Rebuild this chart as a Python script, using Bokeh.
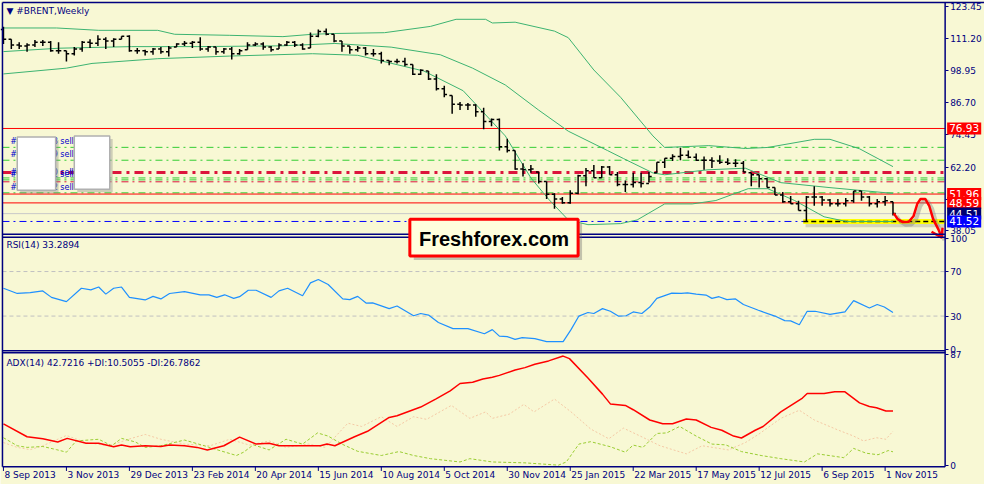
from bokeh.plotting import figure
from bokeh.models import Range1d, Label, FixedTicker, PrintfTickFormatter, LinearAxis
from bokeh.embed import file_html
from bokeh.resources import INLINE
from bokeh.core.properties import value

# ---------------- data (weekly bars, index 0 = 8 Sep 2013) ----------------
bar_open = [114.6, 110.9, 108.7, 108.3, 108.7, 109.8, 109.8, 106.5, 106.5, 105.4,
            107.2, 109.8, 109.4, 110.9, 110.2, 110.9, 112.0, 106.5, 106.5, 106.1,
            107.2, 106.1, 108.0, 109.1, 109.4, 109.8, 107.2, 108.0, 106.1, 107.2,
            105.4, 106.9, 108.7, 109.1, 108.0, 107.2, 108.7, 109.8, 108.7, 107.6,
            112.0, 113.9, 112.8, 110.2, 108.3, 106.9, 107.6, 105.4, 105.4, 102.8,
            102.4, 102.4, 101.3, 97.6, 98.8, 95.8, 92.1, 89.5, 86.2, 85.9,
            85.9, 83.3, 79.6, 80.3, 70.0, 68.5, 61.5, 61.2, 60.4, 56.7,
            51.9, 50.1, 48.6, 52.3, 58.9, 60.8, 58.2, 62.3, 59.3, 55.6,
            55.6, 56.4, 56.0, 60.1, 64.1, 65.6, 66.3, 66.7, 66.0, 64.8,
            64.8, 64.5, 64.1, 63.7, 63.7, 60.1, 59.3, 57.8, 54.5, 51.6,
            49.0, 48.3, 45.7, 50.8, 50.8, 49.7, 48.3, 48.3, 49.4, 53.1,
            50.8, 48.3, 49.0, 49.0]
bar_high = [115.7, 110.9, 109.8, 109.4, 110.6, 110.6, 110.2, 109.8, 106.5, 108.0,
            110.2, 110.9, 112.4, 111.7, 111.3, 112.0, 112.4, 107.6, 106.9, 107.6,
            108.0, 108.3, 109.4, 110.2, 110.2, 111.7, 108.3, 108.0, 107.6, 108.0,
            107.2, 109.8, 109.8, 109.8, 108.3, 109.4, 110.2, 110.2, 109.4, 113.5,
            114.6, 115.0, 112.8, 110.2, 108.3, 108.3, 108.0, 107.2, 106.1, 102.8,
            103.5, 103.9, 101.3, 99.5, 98.8, 97.6, 93.2, 89.5, 87.0, 86.6,
            86.2, 84.8, 80.7, 80.7, 73.0, 68.5, 63.7, 63.0, 60.4, 56.7,
            52.3, 50.8, 53.4, 59.3, 61.9, 63.0, 62.6, 62.6, 60.4, 57.1,
            60.1, 60.1, 60.4, 64.1, 65.6, 67.1, 69.6, 68.5, 67.4, 66.3,
            66.0, 66.7, 65.6, 65.2, 64.5, 60.1, 59.3, 58.2, 54.5, 52.7,
            51.2, 49.4, 51.2, 54.9, 51.2, 50.1, 50.1, 50.5, 53.1, 53.1,
            51.2, 50.1, 51.2, 49.0]
bar_low = [109.1, 107.2, 107.2, 106.1, 108.0, 108.3, 106.1, 105.4, 102.4, 104.7,
           106.1, 107.6, 108.3, 107.2, 108.0, 110.9, 106.1, 105.4, 104.7, 105.0,
           105.4, 104.3, 108.0, 108.3, 107.6, 106.5, 106.1, 105.0, 105.4, 103.2,
           105.0, 106.9, 108.3, 106.9, 106.1, 107.2, 108.3, 108.0, 106.9, 107.6,
           111.7, 112.4, 109.8, 106.1, 105.4, 106.1, 104.7, 104.3, 101.7, 101.0,
           101.7, 100.6, 97.3, 97.3, 95.4, 91.4, 88.8, 82.5, 84.0, 84.0,
           81.4, 76.6, 77.8, 68.5, 67.8, 61.2, 58.6, 60.1, 56.0, 50.1,
           46.4, 48.3, 48.3, 51.9, 54.9, 58.2, 58.2, 59.3, 54.9, 52.7,
           54.5, 54.5, 56.4, 60.1, 61.9, 64.5, 64.8, 65.6, 64.5, 61.2,
           61.9, 63.4, 63.0, 62.3, 60.4, 54.9, 54.5, 54.5, 51.6, 48.6,
           48.3, 45.7, 41.52, 47.5, 47.5, 47.2, 47.2, 47.2, 48.6, 49.4,
           47.2, 46.8, 47.5, 43.8]
bar_close = [110.9, 108.7, 108.3, 108.7, 109.8, 109.8, 106.5, 106.5, 105.4, 107.2,
             109.8, 109.4, 110.9, 110.2, 110.9, 112.0, 106.5, 106.5, 106.1, 107.2,
             106.1, 107.6, 109.1, 109.4, 109.8, 107.2, 108.0, 106.1, 107.2, 105.4,
             106.5, 108.7, 109.1, 108.0, 106.9, 108.7, 109.8, 108.7, 107.2, 112.0,
             113.9, 112.8, 110.2, 108.3, 106.9, 107.6, 105.4, 105.4, 102.8, 102.4,
             102.4, 101.3, 97.6, 99.1, 95.8, 92.1, 89.9, 86.2, 85.9, 85.9,
             83.3, 79.6, 80.3, 70.0, 68.5, 61.5, 61.2, 61.5, 56.7, 51.9,
             50.1, 48.6, 52.3, 58.9, 60.8, 58.2, 62.3, 59.3, 55.6, 55.6,
             56.4, 56.0, 58.6, 64.1, 65.6, 66.3, 66.7, 66.0, 64.8, 64.8,
             64.5, 64.1, 63.7, 63.7, 60.4, 59.3, 57.8, 54.5, 51.6, 49.0,
             48.3, 45.7, 50.8, 50.8, 49.7, 48.3, 48.3, 49.4, 53.1, 50.8,
             48.3, 49.0, 49.4, 44.51]
bar_index = list(range(len(bar_close)))

# Bollinger bands (bar index, price)
bb_upper_x = [0, 6.75, 12.1, 19.6, 21.75, 28.75, 35.5, 39.25, 42.1, 48.4, 54.25, 57.5, 61.25, 62.1,
              65, 70, 71.75, 75, 78.4, 82.5, 84, 89.6, 94.25, 97.1, 103, 105, 108.75, 113]
bb_upper_y = [115.2, 115.2, 114.3, 114.3, 112.8, 112.4, 111.9, 112.8, 113.1, 113.4, 115.8, 118.5, 118.5, 117.1,
              117.4, 114.0, 111.5, 99.2, 88.8, 74.1, 69.7, 70.4, 69.3, 69.7, 72.8, 72.8, 69.2, 62.4]
bb_mid_x = [0, 7.1, 16.25, 24.6, 35.5, 42.1, 49.25, 55.5, 59.6, 63.75, 68, 71.75, 76.75, 78.75,
            82.5, 84, 89.5, 94.25, 98.75, 105, 113]
bb_mid_y = [106.2, 107.5, 108.1, 108.1, 108.4, 109.3, 107.9, 105.0, 99.9, 93.5, 83.9, 75.9, 68.5, 65.5,
            60.0, 59.3, 61.2, 61.8, 56.3, 54.4, 52.2]
bb_low_x = [0, 8, 11.25, 19.6, 28.75, 39.25, 45, 53.4, 58.4, 63.75, 67, 69.25, 71.75, 74.25, 78.4,
            80.5, 84, 87.5, 90.5, 94.6, 97.1, 100.5, 104.25, 107.1, 113]
bb_low_y = [97.7, 99.9, 101.7, 103.5, 104.5, 105.4, 104.8, 98.8, 91.3, 74.1, 58.1, 50.0, 42.1, 40.3, 40.7,
            42.1, 48.2, 48.2, 49.5, 54.0, 54.0, 49.5, 43.3, 41.5, 41.5]

# horizontal levels
resistance_red = [76.93, 51.96, 48.59]
order_levels_green = [69.74, 64.84, 58.10, 57.36, 52.42]
order_labels = ["#10727628 sell", "#10727629 sell", "#10727630 sell", "#10727631 sell", "#10727632 sell"]
level_red_thick = 60.16
level_red_thin = 56.62
current_price = 44.51
support_level = 41.52
support_start = 101.6
axis_boxes = [76.93, 51.96, 48.59, 44.51, 41.52]

# hand-drawn forecast (bar index, price)
forecast_x = [113.1, 113.6, 114.25, 115.0, 115.6, 116.1, 116.5, 117.1, 117.6, 118.1, 118.75, 119.2]
forecast_y = [44.6, 42.4, 41.3, 41.4, 43.5, 48.3, 50.1, 50.1, 47.5, 42.4, 38.6, 35.4]
arrow_head_x = [117.9, 119.2, 119.3]
arrow_head_y = [37.6, 35.4, 39.2]

# RSI(14)
rsi_x = [0, 1.75, 3.4, 5, 6.1, 8, 9.9, 11.1, 12.1, 13, 14, 15, 16, 18, 19, 20, 21.1, 23, 25, 26.1, 27.1,
         28.1, 29.25, 30, 31.1, 32.1, 34, 35, 36.1, 38, 39, 40, 41.25, 43.1, 44, 45, 46.1, 46.9, 49, 50,
         52.1, 53, 54, 55.25, 57.1, 59, 61.1, 62.1, 63, 64, 65, 65.9, 67.5, 69, 71.1, 72.1, 73.1, 74.25,
         75, 76.1, 77.1, 78.1, 79.1, 80, 81.1, 82.1, 83, 84.9, 86.1, 86.9, 88, 89.25, 90, 90.9, 91.9, 93,
         94, 95.9, 98, 99.25, 100, 101.1, 102.1, 103.1, 105, 106.9, 108, 110, 111, 111.9, 113]
rsi_y = [55.0, 50.3, 51.1, 52.6, 46.8, 43.0, 55.0, 53.5, 56.1, 49.7, 55.0, 56.1, 46.8, 44.5, 47.7, 45.4,
         50.3, 52.0, 49.1, 49.1, 46.8, 49.1, 45.9, 47.4, 53.2, 53.2, 46.8, 52.6, 55.0, 48.3, 59.8, 62.8,
         58.4, 45.4, 44.8, 47.7, 41.6, 41.9, 36.7, 39.0, 30.3, 32.3, 30.9, 24.2, 18.7, 18.7, 14.1, 17.8,
         12.0, 11.5, 9.1, 10.6, 9.7, 7.1, 7.1, 17.8, 30.0, 33.2, 32.3, 36.7, 34.3, 30.0, 30.3, 33.7, 32.3,
         38.1, 45.9, 50.6, 50.3, 50.9, 49.7, 48.9, 45.9, 47.4, 44.8, 45.4, 40.4, 35.2, 30.0, 25.9, 25.7,
         22.2, 34.3, 34.3, 31.5, 33.7, 43.9, 37.2, 40.4, 38.1, 33.29]
rsi_levels = [70, 30]

# ADX(14), +DI, -DI
adx_x = [0, 3, 5, 6.9, 8.1, 10.5, 12.1, 14, 15, 16.1, 18, 20, 21.1, 23, 24.6, 25.9, 28, 30, 32.1, 33.75,
         35, 38.6, 40.25, 41.1, 42.1, 44.6, 46.25, 49, 50, 53, 54.9, 56.75, 58, 59.6, 60.9, 62.1, 63, 65,
         66.25, 67.5, 69.25, 71.1, 71.9, 74.25, 76.1, 77.1, 79, 80, 82.1, 83.75, 85, 86.75, 88, 89.9,
         91.25, 92.75, 93.75, 95.5, 96.5, 98.75, 101.5, 102.1, 104.25, 105.6, 106.9, 108.75, 110, 110.9,
         112.1, 113]
adx_y = [32.6, 22.4, 20.8, 18.3, 21.1, 17.3, 17.3, 14.5, 15.8, 14.5, 15.3, 14.7, 15.8, 15.3, 14.0, 12.0,
         15.3, 22.1, 16.6, 17.3, 15.3, 15.3, 15.3, 16.6, 15.3, 22.4, 26.7, 37.6, 38.9, 45.8, 52.1, 58.5,
         64.4, 65.4, 67.9, 69.3, 70.8, 75.0, 76.9, 79.6, 82.2, 86.0, 84.0, 68.7, 56.0, 48.3, 47.1, 43.7,
         35.6, 32.6, 32.6, 36.4, 35.6, 29.8, 27.5, 22.9, 21.4, 27.5, 30.5, 42.0, 52.9, 56.5, 56.5, 57.8,
         57.8, 49.1, 46.3, 45.3, 42.7, 42.72]
pdi_x = [0, 1.75, 3, 5, 6.75, 8, 9.25, 12.1, 13.75, 15, 16.75, 18, 20, 23, 25.5, 27.1, 29.6, 30.5, 31.75,
         33.75, 35.9, 38, 39.9, 41.25, 43, 45, 48, 50.25, 52.1, 54.25, 58, 59.25, 62.1, 66.25, 70.5, 71.5,
         73.1, 74.6, 77.1, 79, 80, 81.25, 83, 84.25, 85.9, 88, 90, 91.75, 93.75, 96.25, 98.75, 101.75,
         103.4, 106.75, 108, 109.6, 111.1, 112.4, 113]
pdi_y = [21.6, 15.3, 14.0, 14.7, 12.2, 10.2, 19.1, 20.4, 15.3, 21.1, 18.3, 14.0, 15.3, 19.8, 15.3, 12.2,
         7.6, 10.2, 16.0, 12.0, 20.4, 16.6, 25.4, 22.9, 16.6, 10.9, 7.6, 10.7, 7.6, 5.1, 2.5, 5.1, 2.5,
         1.8, 0.0, 2.5, 16.6, 18.5, 14.5, 10.2, 15.8, 14.0, 25.0, 25.4, 30.5, 22.9, 16.6, 16.0, 10.7, 7.6,
         5.1, 2.5, 8.9, 5.9, 13.2, 9.4, 8.2, 11.5, 10.51]
mdi_x = [0, 1.75, 3.4, 5, 8, 10.5, 13.4, 16.25, 18, 20, 23, 26.25, 28.75, 31.25, 33.75, 35.9, 38.75, 40.9,
         43.75, 45.5, 48, 50, 52.1, 53.75, 56.9, 59.25, 61.25, 62.1, 64.25, 66.1, 67.4, 70, 72.1, 74.6,
         76.9, 78.75, 80.9, 83.4, 86.75, 88.75, 92.1, 94.25, 95.9, 98.75, 101.1, 103, 105.9, 108, 109.25,
         110.9, 112.1, 113]
mdi_y = [17.8, 14.0, 12.2, 15.3, 23.4, 17.8, 15.3, 21.1, 24.2, 20.4, 16.6, 15.3, 20.4, 15.8, 19.1, 14.0,
         16.6, 14.0, 33.1, 30.5, 38.2, 30.5, 38.2, 36.1, 47.1, 36.9, 42.0, 36.9, 40.2, 47.9, 42.0, 52.1,
         42.0, 28.5, 20.8, 29.2, 22.9, 15.3, 8.9, 15.3, 12.0, 17.8, 24.2, 36.9, 43.3, 35.6, 28.0, 22.9,
         19.1, 21.6, 20.4, 26.79]

date_ticks = [0, 8, 16, 24, 32, 40, 48, 56, 64, 72, 80, 88, 96, 104, 112]
date_labels = ["8 Sep 2013", "3 Nov 2013", "29 Dec 2013", "23 Feb 2014", "20 Apr 2014",
               "15 Jun 2014", "10 Aug 2014", "5 Oct 2014", "30 Nov 2014", "25 Jan 2015",
               "22 Mar 2015", "17 May 2015", "12 Jul 2015", "6 Sep 2015", "1 Nov 2015"]
price_ticks = [38.05, 49.90, 62.20, 74.45, 86.70, 98.95, 111.20, 123.45]
rsi_ticks = [0, 30, 70, 100]
adx_ticks = [0, 87]

# ---------------- layout helpers (chart-pixel geometry of the terminal window) ----------------
BG = "#F8F8D4"
NAVY = "#000080"
FONT = "DejaVu Sans"
BOX_COLORS = ["#FF0000", "#FF0000", "#FF0000", "#000070", "#0000FF"]


def ix(px):      # horizontal pixel -> bar index (8 px per weekly bar)
    return (px - 3) / 8.0


def py(px):      # vertical pixel -> price scale
    return 125.66 - 0.3686 * px


def ry(px):      # vertical pixel -> RSI scale
    return 30 + (326 - px) * 0.8696


def ay(px):      # vertical pixel -> ADX scale
    return (480 - px) / 1.31


XL, XR = ix(0), ix(1000)
X_LEFT, X_AXIS = ix(2), ix(960)

p = figure(frame_width=984, frame_height=484, x_range=Range1d(XL, XR), y_range=Range1d(py(500), py(0)),
           output_backend="svg", toolbar_location=None, x_axis_location=None, y_axis_location=None,
           min_border=0, min_border_left=0, min_border_right=0, min_border_top=0, min_border_bottom=0,
           background_fill_color=BG, border_fill_color=BG, outline_line_color=None)
p.grid.visible = False
p.extra_y_ranges = {"rsi": Range1d(ry(500), ry(0)), "adx": Range1d(ay(500), ay(0))}

# right-hand value axes (one per pane), anchored at the pane edge
for rng, ticks, fmt in (("default", price_ticks, "%.2f"), ("rsi", rsi_ticks, "%d"), ("adx", adx_ticks, "%d")):
    ax = LinearAxis(y_range_name=rng, fixed_location=X_AXIS, ticker=FixedTicker(ticks=ticks),
                    formatter=PrintfTickFormatter(format=fmt))
    ax.axis_line_color = None
    ax.major_tick_line_color = NAVY
    ax.minor_tick_line_color = None
    ax.major_tick_in = 0
    ax.major_tick_out = 3
    ax.major_label_text_color = NAVY
    ax.major_label_text_font = FONT
    ax.major_label_text_font_size = "9px"
    ax.major_label_standoff = 2
    p.add_layout(ax, "right")

# ---------------- main price pane ----------------
for lv in order_levels_green:
    p.segment(x0=[X_LEFT], y0=[lv], x1=[X_AXIS], y1=[lv], line_color="#32CD32", line_width=1,
              line_dash="7 4 2 4")
p.segment(x0=[X_LEFT], y0=[level_red_thick], x1=[X_AXIS], y1=[level_red_thick], line_color="#DC143C",
          line_width=3, line_dash="9 5 3 5")
p.segment(x0=[X_LEFT], y0=[level_red_thin], x1=[X_AXIS], y1=[level_red_thin], line_color="#DC143C",
          line_width=1, line_dash="7 4 2 4")
p.segment(x0=[X_LEFT] * 3, y0=resistance_red, x1=[X_AXIS] * 3, y1=resistance_red,
          line_color="#FF0000", line_width=1)
p.segment(x0=[X_LEFT], y0=[current_price], x1=[X_AXIS], y1=[current_price], line_color="#C8C8C8",
          line_width=1)
p.segment(x0=[X_LEFT], y0=[support_level], x1=[X_AXIS], y1=[support_level], line_color="#0000FF",
          line_width=1, line_dash="7 4 2 4")

# yellow support marker
p.segment(x0=[support_start + 0.3], y0=[support_level - 0.9], x1=[X_AXIS], y1=[support_level - 0.9],
          line_color="#808080", line_alpha=0.3, line_width=7)
p.segment(x0=[support_start], y0=[support_level], x1=[X_AXIS], y1=[support_level],
          line_color="#FFFF00", line_width=5)
p.segment(x0=[support_start], y0=[support_level], x1=[X_AXIS], y1=[support_level],
          line_color="#000000", line_width=1.5, line_dash="5 3")

# Bollinger bands
for bx, by in ((bb_upper_x, bb_upper_y), (bb_mid_x, bb_mid_y), (bb_low_x, bb_low_y)):
    p.line(bx, by, line_color="#3CB371", line_width=1)

# OHLC bars
p.segment(x0=bar_index, y0=bar_low, x1=bar_index, y1=bar_high, line_color="black", line_width=1.5)
p.segment(x0=[i - 0.35 for i in bar_index], y0=bar_open, x1=bar_index, y1=bar_open,
          line_color="black", line_width=1.5)
p.segment(x0=bar_index, y0=bar_close, x1=[i + 0.35 for i in bar_index], y1=bar_close,
          line_color="black", line_width=1.5)

# order labels, partly hidden by white boxes
p.text(x=[ix(10)] * len(order_levels_green), y=order_levels_green, text=order_labels,
       y_offset=-1, text_baseline="bottom", text_font=value(FONT), text_font_size="8px",
       text_color="#0000CC")
p.quad(left=[ix(20), ix(78)], right=[ix(59), ix(114)], top=[py(144), py(143)], bottom=[py(199), py(198)],
       fill_color="#808080", fill_alpha=0.35, line_color=None)
p.quad(left=[ix(17), ix(75)], right=[ix(56), ix(111)], top=[py(141), py(140)], bottom=[py(196), py(195)],
       fill_color="white", line_color="#B0B0B0", line_width=1.5)

# hand-drawn forecast
p.line([x + 0.35 for x in forecast_x], [y - 1.0 for y in forecast_y], line_color="#808080",
       line_alpha=0.4, line_width=4)
p.line(forecast_x, forecast_y, line_color="#FF0000", line_width=2.5)
p.line(arrow_head_x, arrow_head_y, line_color="#FF0000", line_width=2.5)

# price boxes on the axis
for v, c in zip(axis_boxes, BOX_COLORS):
    p.add_layout(Label(x=X_AXIS, y=v, x_offset=2, text=f"{v:.2f}", text_baseline="middle",
                       text_align="left", text_color="white", text_font=FONT,
                       text_font_size="10.5px", background_fill_color=c, padding=2))

# ---------------- RSI pane ----------------
for lv in rsi_levels:
    p.segment(x0=[X_LEFT], y0=[lv], x1=[X_AXIS], y1=[lv], y_range_name="rsi",
              line_color="#C0C0C0", line_width=1, line_dash="4 3")
p.line(rsi_x, rsi_y, y_range_name="rsi", line_color="#1E90FF", line_width=1.2)

# ---------------- ADX pane ----------------
p.line(mdi_x, mdi_y, y_range_name="adx", line_color="#F5C9A5", line_width=1, line_dash="2 2")
p.line(pdi_x, pdi_y, y_range_name="adx", line_color="#9ACD32", line_width=1, line_dash="3 2")
p.line(adx_x, adx_y, y_range_name="adx", line_color="#FF0000", line_width=1.5)

# ---------------- pane frames ----------------
p.segment(x0=[X_LEFT], y0=[py(2)], x1=[XR], y1=[py(2)], line_color=NAVY, line_width=1.5)
p.segment(x0=[X_LEFT] * 5, y0=[py(241.5), py(244.5), py(361.7), py(364), py(481.7)],
          x1=[X_AXIS] * 5, y1=[py(241.5), py(244.5), py(361.7), py(364), py(481.7)],
          line_color=NAVY, line_width=1.5)
p.segment(x0=[X_LEFT, X_AXIS], y0=[py(2), py(2)], x1=[X_LEFT, X_AXIS], y1=[py(481.7), py(481.7)],
          line_color=NAVY, line_width=1.5)

# date labels, left-aligned at their tick marks
p.segment(x0=date_ticks, y0=[py(481.7)] * len(date_ticks), x1=date_ticks, y1=[py(486)] * len(date_ticks),
          line_color=NAVY, line_width=1)
p.text(x=date_ticks, y=[py(490.5)] * len(date_ticks), text=date_labels, x_offset=1,
       text_align="left", text_baseline="middle", text_font=value(FONT), text_font_size="9px",
       text_color=NAVY)

# pane titles
p.text(x=[ix(6)], y=[py(11)], text=["\u25bc #BRENT,Weekly"], text_baseline="middle",
       text_font=value(FONT), text_font_size="9px", text_color=NAVY)
p.text(x=[ix(6)], y=[py(253)], text=["RSI(14) 33.2894"], text_baseline="middle",
       text_font=value(FONT), text_font_size="9px", text_color=NAVY)
p.text(x=[ix(6)], y=[py(374)], text=["ADX(14) 42.7216 +DI:10.5055 -DI:26.7862"], text_baseline="middle",
       text_font=value(FONT), text_font_size="9px", text_color=NAVY)

# Freshforex.com badge
p.quad(left=[ix(420)], right=[ix(591)], top=[py(230)], bottom=[py(268)],
       fill_color="#606060", fill_alpha=0.35, line_color=None)
p.quad(left=[ix(416)], right=[ix(587)], top=[py(226)], bottom=[py(264)],
       fill_color="#FFFFDD", line_color="#FF0000", line_width=3)
p.text(x=[ix(501.5)], y=[py(246)], text=["Freshforex.com"], text_align="center", text_baseline="middle",
       text_font=value("Liberation Sans"), text_font_style="bold", text_font_size="20px",
       text_color="black")

open("out.html", "w").write(file_html(p, INLINE))
